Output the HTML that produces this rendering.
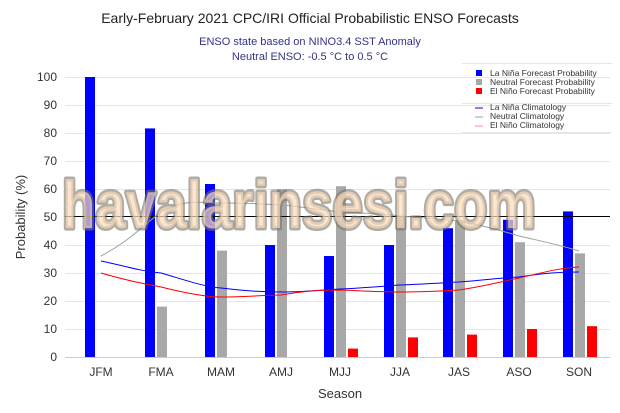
<!DOCTYPE html>
<html><head><meta charset="utf-8"><style>
html,body{margin:0;padding:0;background:#fff}
svg{display:block;font-family:"Liberation Sans",sans-serif}
</style></head><body>
<svg width="620" height="413" viewBox="0 0 620 413" xmlns="http://www.w3.org/2000/svg">
<rect width="620" height="413" fill="#fff"/>
<text x="310" y="23" font-size="14" text-anchor="middle" fill="#222">Early-February 2021 CPC/IRI Official Probabilistic ENSO Forecasts</text>
<text x="310" y="45" font-size="11" text-anchor="middle" fill="#33338a">ENSO state based on NINO3.4 SST Anomaly</text>
<text x="310" y="60" font-size="11" text-anchor="middle" fill="#33338a">Neutral ENSO: -0.5 °C to 0.5 °C</text>
<g stroke="#e6e6e6" stroke-width="1">
<line x1="65" x2="610" y1="77.5" y2="77.5"/><line x1="65" x2="610" y1="105.5" y2="105.5"/><line x1="65" x2="610" y1="133.5" y2="133.5"/><line x1="65" x2="610" y1="161.5" y2="161.5"/><line x1="65" x2="610" y1="189.5" y2="189.5"/><line x1="65" x2="610" y1="245.5" y2="245.5"/><line x1="65" x2="610" y1="273.5" y2="273.5"/><line x1="65" x2="610" y1="301.5" y2="301.5"/><line x1="65" x2="610" y1="329.5" y2="329.5"/>
</g>
<line x1="65" x2="610" y1="357.5" y2="357.5" stroke="#ccc"/>
<g font-size="12" fill="#333" text-anchor="end">
<text x="57" y="81">100</text><text x="57" y="109">90</text><text x="57" y="137">80</text><text x="57" y="165">70</text><text x="57" y="193">60</text><text x="57" y="221">50</text><text x="57" y="249">40</text><text x="57" y="277">30</text><text x="57" y="305">20</text><text x="57" y="333">10</text><text x="57" y="361">0</text>
</g>
<text transform="translate(25,217) rotate(-90)" font-size="13" text-anchor="middle" fill="#333">Probability (%)</text>
<g font-size="12" fill="#333" text-anchor="middle">
<text x="101" y="376">JFM</text><text x="161" y="376">FMA</text><text x="221" y="376">MAM</text><text x="281" y="376">AMJ</text><text x="340" y="376">MJJ</text><text x="400" y="376">JJA</text><text x="459" y="376">JAS</text><text x="519" y="376">ASO</text><text x="579" y="376">SON</text>
</g>
<text x="340" y="398" font-size="13" text-anchor="middle" fill="#333">Season</text>
<g fill="#0000ff">
<rect x="85" y="77" width="10" height="280"/><rect x="145" y="128.4" width="10" height="228.6"/><rect x="205" y="184" width="10" height="173"/><rect x="265" y="245" width="10" height="112"/><rect x="324" y="256" width="10" height="101"/><rect x="384" y="245" width="10" height="112"/><rect x="443" y="228.2" width="10" height="128.8"/><rect x="503" y="219.8" width="10" height="137.2"/><rect x="563" y="211.4" width="10" height="145.6"/>
</g>
<g fill="#a8a8a8">
<rect x="157" y="306.6" width="10" height="50.4"/><rect x="217" y="250.6" width="10" height="106.4"/><rect x="277" y="189" width="10" height="168"/><rect x="336" y="186.2" width="10" height="170.8"/><rect x="396" y="217" width="10" height="140"/><rect x="455" y="220" width="10" height="137"/><rect x="515" y="242.2" width="10" height="114.8"/><rect x="575" y="253.4" width="10" height="103.6"/>
</g>
<g fill="#ff0000">
<rect x="348" y="348.6" width="10" height="8.4"/><rect x="408" y="337.4" width="10" height="19.6"/><rect x="467" y="334.6" width="10" height="22.4"/><rect x="527" y="329" width="10" height="28"/><rect x="587" y="326.2" width="10" height="30.8"/>
</g>
<line x1="65" x2="610" y1="216.5" y2="216.5" stroke="#000" stroke-width="1"/>
<path d="M101,256 C131,240 145,224 161,212 C185,198 205,203 221,203 C245,203 265,204 281,205 C305,207 320,210 340,212 C365,213 385,214 400,216 C425,218 440,219 459,221 C485,226 500,230 519,236 C545,242 560,245 579,251" fill="none" stroke="#a0a0a0" stroke-width="1"/>
<path d="M101,261 C125,266 140,271 161,273 C185,280 205,287 221,288 C245,291 265,292 281,292 C305,292 320,290 340,289 C365,288 385,286 400,285 C425,284 440,283 459,282 C485,280 500,278 519,277 C545,273 560,272 579,272" fill="none" stroke="#0000ff" stroke-width="1"/>
<path d="M101,273 C125,280 140,283 161,287 C185,293 205,297 221,297 C245,297 265,295 281,295 C305,291 320,290 340,290 C365,291 385,292 400,292 C425,292 440,291 459,290 C485,286 500,282 519,278 C545,272 560,268 579,267" fill="none" stroke="#ff0000" stroke-width="1"/>
<line x1="462" x2="612" y1="63.5" y2="63.5" stroke="#e6e6e6"/>
<line x1="462" x2="612" y1="103.5" y2="103.5" stroke="#e6e6e6"/>
<line x1="462" x2="612" y1="132.5" y2="132.5" stroke="#e6e6e6"/>
<rect x="476" y="70" width="6" height="6" fill="#0000ff"/>
<rect x="476" y="79" width="6" height="6" fill="#a8a8a8"/>
<rect x="476" y="88" width="6" height="6" fill="#ff0000"/>
<g font-size="8.5" fill="#333">
<text x="490" y="76">La Niña Forecast Probability</text>
<text x="490" y="85">Neutral Forecast Probability</text>
<text x="490" y="94">El Niño Forecast Probability</text>
<text x="490" y="110">La Niña Climatology</text>
<text x="490" y="119">Neutral Climatology</text>
<text x="490" y="128">El Niño Climatology</text>
</g>
<line x1="475" x2="483" y1="108" y2="108" stroke="#0000ff"/>
<line x1="475" x2="483" y1="117" y2="117" stroke="#a0a0a0"/>
<line x1="475" x2="483" y1="126" y2="126" stroke="#ff9090"/>
<text x="62" y="228" font-size="68" font-weight="bold" textLength="474" lengthAdjust="spacingAndGlyphs" fill="#fbdcbc" fill-opacity="0.7" stroke="#7a7468" stroke-opacity="0.6" stroke-width="5" stroke-linejoin="round" paint-order="stroke">havalarinsesi.com</text>
</svg>
</body></html>
